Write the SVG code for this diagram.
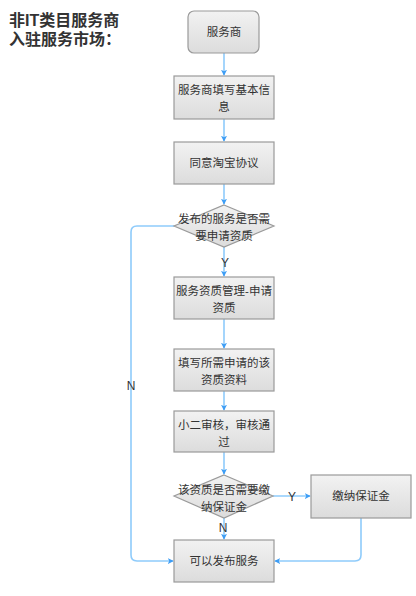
<svg xmlns="http://www.w3.org/2000/svg" width="416" height="596" viewBox="0 0 416 596">
<defs>
<linearGradient id="g" x1="0" y1="0" x2="0" y2="1"><stop offset="0" stop-color="#f2f2f2"/><stop offset="1" stop-color="#dcdcdc"/></linearGradient>
<marker id="a" viewBox="0 0 8 8" refX="7" refY="4" markerWidth="6" markerHeight="6" orient="auto" markerUnits="userSpaceOnUse"><path d="M0,0 L8,4 L0,8 L2,4 Z" fill="#3d9df5"/></marker>
<style>
.n{fill:url(#g);stroke:#9a9a9a;stroke-width:1.2}
.t{font-family:"Liberation Sans","Noto Sans CJK SC",sans-serif;font-size:11.5px;fill:#333;text-anchor:middle}
.l{font-family:"Liberation Sans","Noto Sans CJK SC",sans-serif;font-size:12px;fill:#333;text-anchor:middle}
.c{fill:none;stroke:#8ecbfb;stroke-width:1.6;marker-end:url(#a)}
</style>
</defs>
<rect width="416" height="596" fill="#fff"/>
<text font-family="'Liberation Sans','Noto Sans CJK SC',sans-serif" font-size="16" font-weight="bold" fill="#333"><tspan x="9" y="26">非IT类目服务商</tspan><tspan x="9" y="45">入驻服务市场：</tspan></text>
<g id="connectors">
<path class="c" d="M224,53 V75"/>
<path class="c" d="M224,119 V141"/>
<path class="c" d="M224,184 V204"/>
<path class="c" d="M224,247 V276"/>
<path class="c" d="M224,319 V348"/>
<path class="c" d="M224,391 V410"/>
<path class="c" d="M224,452 V474"/>
<path class="c" d="M224,518 V539"/>
<path class="c" d="M273,496 H310"/>
<path class="c" d="M361,518 V555 Q361,561 355,561 H275"/>
<path class="c" d="M174,226 H137 Q131,226 131,232 V555 Q131,561 137,561 H173"/>
<text class="l" x="225" y="267">Y</text>
<text class="l" x="292" y="501">Y</text>
<text class="l" x="223" y="532">N</text>
<text class="l" x="131" y="390">N</text>
</g>
<g id="n1"><rect class="n" x="188" y="11" width="71" height="42" rx="6"/><text class="t" x="224" y="36">服务商</text></g>
<g id="n2"><rect class="n" x="174" y="76" width="100" height="43"/><text class="t" x="224" y="94">服务商填写基本信</text><text class="t" x="224" y="111">息</text></g>
<g id="n3"><rect class="n" x="174" y="142" width="100" height="42"/><text class="t" x="224" y="167">同意淘宝协议</text></g>
<g id="n4"><polygon class="n" points="224,205 274,226 224,247 174,226"/><text class="t" x="224" y="223">发布的服务是否需</text><text class="t" x="224" y="240">要申请资质</text></g>
<g id="n5"><rect class="n" x="174" y="277" width="100" height="42"/><text class="t" x="224" y="295">服务资质管理-申请</text><text class="t" x="224" y="312">资质</text></g>
<g id="n6"><rect class="n" x="174" y="349" width="100" height="42"/><text class="t" x="224" y="367">填写所需申请的该</text><text class="t" x="224" y="384">资质资料</text></g>
<g id="n7"><rect class="n" x="174" y="411" width="100" height="41"/><text class="t" x="224" y="429">小二审核，审核通</text><text class="t" x="224" y="446">过</text></g>
<g id="n8"><polygon class="n" points="224,475 273,496 224,518 174,496"/><text class="t" x="224" y="494">该资质是否需要缴</text><text class="t" x="224" y="511">纳保证金</text></g>
<g id="n9"><rect class="n" x="311" y="475" width="100" height="43"/><text class="t" x="361" y="500">缴纳保证金</text></g>
<g id="n10"><rect class="n" x="174" y="540" width="100" height="42"/><text class="t" x="224" y="565">可以发布服务</text></g>
</svg>
